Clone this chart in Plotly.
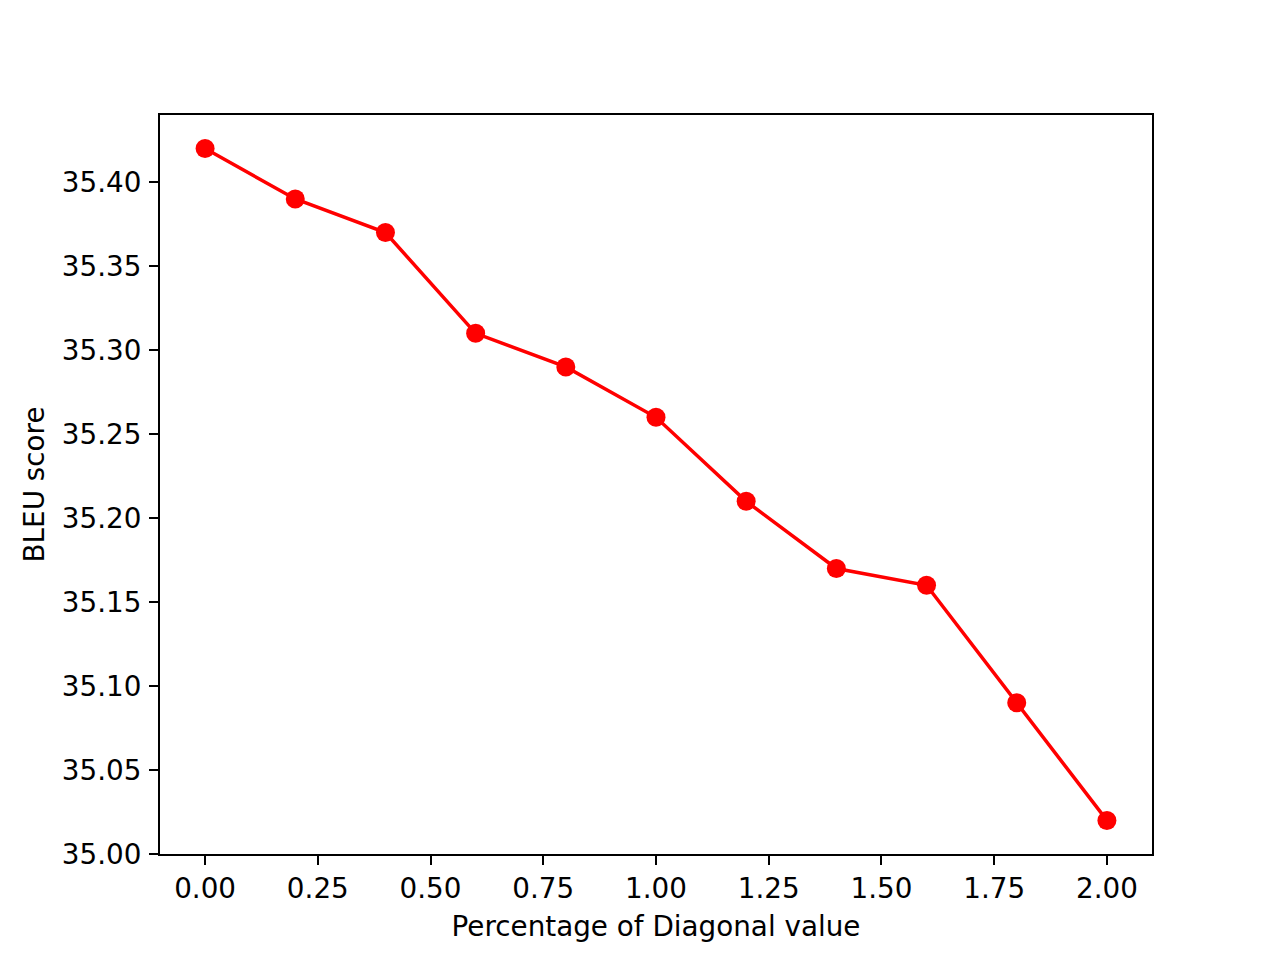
import plotly.graph_objects as go

diag_pct = [0.0, 0.2, 0.4, 0.6, 0.8, 1.0, 1.2, 1.4, 1.6, 1.8, 2.0]
bleu = [35.42, 35.39, 35.37, 35.31, 35.29, 35.26, 35.21, 35.17, 35.16, 35.09, 35.02]

x_ticks = [0.0, 0.25, 0.5, 0.75, 1.0, 1.25, 1.5, 1.75, 2.0]
y_ticks = [35.00, 35.05, 35.10, 35.15, 35.20, 35.25, 35.30, 35.35, 35.40]

FONT_SIZE = 27.8

fig = go.Figure()

fig.add_trace(go.Scatter(
    x=diag_pct,
    y=bleu,
    mode="lines+markers",
    line=dict(color="#ff0000", width=3.5),
    marker=dict(color="#ff0000", size=19),
))

axis_style = dict(
    showline=True,
    linecolor="black",
    linewidth=2,
    mirror=True,
    ticks="outside",
    ticklen=9,
    tickwidth=2,
    tickcolor="black",
    showgrid=False,
    zeroline=False,
    tickfont=dict(size=FONT_SIZE, color="black"),
)

fig.update_xaxes(
    range=[-0.1, 2.1],
    tickmode="array",
    tickvals=x_ticks,
    ticktext=[f"{v:.2f}" for v in x_ticks],
    title=dict(text="Percentage of Diagonal value", font=dict(size=FONT_SIZE, color="black"), standoff=12),
    ticklabelstandoff=0,
    **axis_style,
)
fig.update_yaxes(
    range=[35.0, 35.44],
    tickmode="array",
    tickvals=y_ticks,
    ticktext=[f"{v:.2f}" for v in y_ticks],
    title=dict(text="BLEU score", font=dict(size=FONT_SIZE, color="black"), standoff=9),
    ticklabelstandoff=2,
    **axis_style,
)

# page body adds an 8px offset, so shift the margins to compensate
fig.update_layout(
    width=1280,
    height=960,
    margin=dict(t=107, b=114, l=152, r=136),
    plot_bgcolor="white",
    paper_bgcolor="white",
    font=dict(family="DejaVu Sans", color="black"),
    showlegend=False,
)

fig.write_html("out.html")
